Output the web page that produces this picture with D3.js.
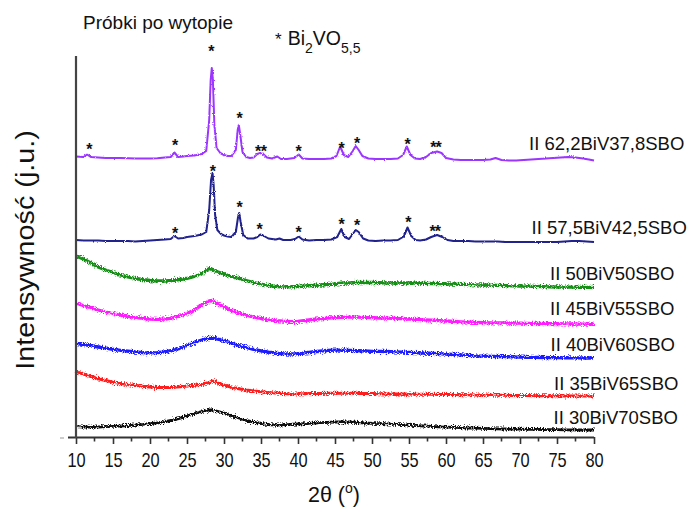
<!DOCTYPE html>
<html><head><meta charset="utf-8">
<script src="https://cdn.jsdelivr.net/npm/d3@7"></script>
<style>
body{margin:0;background:#fff}
svg{display:block}
text{font-family:"Liberation Sans",Arial,Helvetica,sans-serif;fill:#111}
</style></head>
<body><svg id="chart" width="690" height="508"></svg>
<script>
// ---------- DATA ----------
const xTicks = [10,15,20,25,30,35,40,45,50,55,60,65,70,75,80];

// common angle grid for the amorphous samples (2θ, degrees)
const gridAngles = [10,11,12,13,14,15,16,17,18,19,20,21,22,23,24,25,26,27,28,28.5,
  29,30,31,32,33,34,35,36,37,38,39,40,41,42,43,44,45,46,47,48,49,50,51,52,53,54,55,
  56,57,58,59,60,61,62,63,64,65,66,67,68,69,70,71,72,73,74,75,76,77,78,79,80];

const s50BiV50 = [181,178,174,170,167,164.5,162,160,158.5,157.5,156.5,156,156,156.5,157.5,158.5,160.5,163.5,168.5,
  167,165.5,163,160.5,158.5,156.5,154.5,153,151.5,150.5,150.2,150.2,150.5,151,151.5,152,152.5,153,154,154,154.5,
  154.5,154.5,154.3,154,154,154,154,153.8,153.7,153.5,153.3,153,152.8,152.6,152.4,152.2,152,151.8,151.6,151.4,
  151.2,151,150.8,150.6,150.4,150.2,150,149.9,149.8,149.7,149.6,149.5];

const s45BiV55 = [133.7,131.5,129.5,127,125,123.5,122,120.7,119.7,118.7,118,117.7,118,119,121,123.5,127,132,136,
  136.5,134,130,126.5,124,121.5,120,118.5,117.2,116.4,115.8,115.4,115.7,116.5,117.5,118.2,118.8,119.4,119.7,
  119.8,119.8,119.6,119.3,119,118.8,118.6,118.4,118,117.6,117.2,116.8,116.4,116,115.6,115.2,114.8,114.5,114.3,
  114.2,114.1,114,113.9,113.8,113.7,113.6,113.5,113.4,113.3,113.2,113,112.9,112.8,112.7];

const s40BiV60 = [93.7,92.5,91.3,90,88.8,87.7,86.7,85.8,85,84.4,84.2,84.4,85.2,86.7,88.7,91.5,94.5,97,98.7,
  98.8,98.2,96.5,94,91.5,89.5,87.7,86.2,84.8,83.8,83.2,83,83.4,84.2,85,85.8,86.5,86.8,86.8,86.6,86.3,86,85.7,
  85.7,85.5,85.2,84.9,84.6,84.3,84,83.7,83.3,82.9,82.5,82.1,81.7,81.2,80.9,80.7,80.5,80.3,80.1,79.9,79.7,79.6,
  79.5,79.4,79.3,79.2,79.2,79.1,79,79];

const s35BiV65 = [65.3,63,60.5,58.2,56.5,54.8,53.5,52.4,51.5,50.7,50,49.5,49.4,49.6,50.2,51,51.7,52.8,54.5,
  56.3,54.5,52,49.8,48.2,47,46,45.2,44.5,44,43.5,43.1,43,43.2,43.4,43.6,43.7,43.7,43.7,43.7,43.7,43.6,43.4,
  43.2,43.1,43,42.9,42.9,42.8,42.7,42.7,42.6,42.5,42.4,42.3,42.2,42.1,42,41.9,41.8,41.7,41.6,41.5,41.4,41.3,
  41.3,41.2,41.2,41.1,41.1,41,41,41];

const s30BiV70 = [10.3,10,9.8,10,10.3,10.7,11,11.5,12,12.6,13.4,14.1,15.3,16.8,18.7,21,23.3,25.5,27,
  27,26,24,21.2,19,16.7,14.8,13.5,12.5,12,12.2,12.6,13,13.4,13.8,14.3,14.7,15,15.2,15,14.5,14,13.6,13.4,13.1,
  12.7,12.3,11.8,11.4,11,10.6,10.2,9.9,9.6,9.3,9,8.8,8.6,8.4,8.2,8,7.9,7.8,7.7,7.6,7.5,7.4,7.3,7.2,7.1,7,7,7];

// crystalline samples (own angle lists, denser around the reflections)
const a62BiV = [10,11,11.5,12,13,14,15,16,17,18,19,20,21,22,22.8,23.3,23.8,24.5,25,26,27,27.6,28,28.2,28.35,
  28.5,28.7,29,29.5,30,30.5,31,31.6,31.85,32,32.2,32.5,33,33.5,34,34.5,34.9,35.3,35.8,36.5,37.2,37.7,38.5,
  39.5,40.1,40.6,41.5,42.5,43.5,44.5,45.2,45.7,46.2,46.8,47.4,47.8,48.2,48.7,49.5,50.5,51.5,52.5,53.5,54.2,
  54.7,55.2,55.8,56.5,57.3,58,58.8,59.4,60,61,62,63,64,65,66,66.7,67.5,68.5,69.5,70.5,71.5,72.5,73.5,74.5,
  75.5,76.5,77.5,78.5,79.3,80];
const s62BiV = [280.5,280,282.5,280,279.5,279,279,279,278.7,278.5,278.5,278.5,278.7,279.5,280,284.5,280,280.5,
  281,281.5,283,286,317,357,369,357,312,289,284,282,281,281,287,307,312,302,285,280,279,279.5,283,284,283,
  279.5,278.5,280.5,278,278,279,282.5,278.5,278,278,278,278.5,281,290.5,282,280,286,291,287,281,278.5,278,
  278,278,278.5,282,290.5,282,278.5,278,280,284,285.5,284,279,277.5,277,277,277,277,277.5,279,277,276.5,
  276.5,277,277.5,278,278.5,279,279.5,280,279.5,278.5,277.5,276.5];

const a57BiV = [10,11,12,13,14,15,16,17,18,19,20,21,22,22.8,23.3,23.8,24.5,25,26,27,27.6,28,28.25,28.45,28.6,
  28.8,29.1,29.6,30,30.5,31,31.6,31.9,32.05,32.25,32.6,33.2,34,34.5,34.9,35.4,36,37,37.5,38,39,39.6,40.1,
  40.6,41.5,42.5,43.5,44.5,45.3,45.85,46.3,46.9,47.4,47.8,48.2,48.8,49.5,50.5,51.5,52.5,53.5,54.3,54.8,55.3,
  55.9,56.5,57.3,58,58.8,59.5,60.2,61,62,63,64,65,66,67,68,69,70,71,72,73,74,75,76,77,78,79,80];
const s57BiV = [197,196.5,196.5,196.5,196,196,196,196,195.5,196,196.5,197,197.5,198,201,198.5,199,200,201,
  202.5,205,227,257,264,252,222,207,203,201.5,200.5,200,205,220,224,215,202,198.5,198.5,200,202.5,201,198.5,
  197.5,198.5,197,197,198,200.5,197.5,196.5,197,197,197.5,200,208,200,198,203,207,205,198.5,196.5,196,196.5,
  196.5,197,200.5,209.5,201,197,196.5,197.5,200,202,200,197,196,196,196,195.5,195.5,195.5,195.5,195,195,195,
  195,195,195,195,195,195.5,196,196,195.5,195,194.5];

// reflection markers (Bi2VO5,5): angle and marker level
const starAngles62 = [11.8,23.4,28.3,32.1,34.6,35.4,40.1,45.9,48.0,54.8,58.3,59.0];
const starLevels62 = [290,294,388,321,288,288,288,291,296,295,292,292];
const starAngles57 = [23.4,28.5,32.1,34.8,40.1,45.9,48.0,54.9,58.2,58.9];
const starLevels57 = [206,268,232,210,207,215,214,217,208,208];

const seriesNames = ["II 62,2BiV37,8SBO","II 57,5BiV42,5SBO","II 50BiV50SBO","II 45BiV55SBO",
  "II 40BiV60SBO","II 35BiV65SBO","II 30BiV70SBO"];
const seriesColors = ["#9b34ff","#20208c","#178f17","#ff1aff","#1a1aff","#ff1a1a","#111111"];

// ---------- CHART ----------
const svg = d3.select("#chart");
const x = d3.scaleLinear().domain([10,80]).range([76,594]);
const y = d3.scaleLinear().domain([0,380]).range([437,57]);

const defs = svg.append("defs");
function noiseFilter(id, scale, seed){
  const f = defs.append("filter").attr("id",id).attr("x","-5%").attr("y","-50%").attr("width","110%").attr("height","200%");
  f.append("feTurbulence").attr("type","fractalNoise").attr("baseFrequency","0.9").attr("numOctaves",1).attr("seed",seed).attr("result","t");
  f.append("feDisplacementMap").attr("in","SourceGraphic").attr("in2","t").attr("scale",scale).attr("xChannelSelector","R").attr("yChannelSelector","G");
}
noiseFilter("noiseA",6.5,3);
noiseFilter("noiseC",2.6,5);

const line = d3.line().x(d=>x(d[0])).y(d=>y(d[1]));
const series = [
  {a:a62BiV, v:s62BiV, w:2.0, n:"noiseC"},
  {a:a57BiV, v:s57BiV, w:2.0, n:"noiseC"},
  {a:gridAngles, v:s50BiV50, w:3.3, n:"noiseA"},
  {a:gridAngles, v:s45BiV55, w:3.3, n:"noiseA"},
  {a:gridAngles, v:s40BiV60, w:3.3, n:"noiseA"},
  {a:gridAngles, v:s35BiV65, w:3.0, n:"noiseA"},
  {a:gridAngles, v:s30BiV70, w:2.8, n:"noiseA"}
];
series.forEach((s,i)=>{
  const pts = s.a.map((a,j)=>[a,s.v[j]]);
  svg.append("path").attr("d",line(pts)).attr("fill","none")
    .attr("stroke",seriesColors[i]).attr("stroke-width",s.w).attr("stroke-linejoin","round")
    .attr("filter",`url(#${s.n})`);
});

// axes
const xAxis = d3.axisBottom(x).tickValues(xTicks).tickSize(7).tickFormat(d3.format("d"));
const gx = svg.append("g").attr("transform","translate(0,437)").call(xAxis);
gx.select(".domain").attr("stroke","#333").attr("stroke-width",2).attr("d","M68,0.5H594");
gx.selectAll(".tick line").attr("stroke","#333").attr("stroke-width",1.6);
gx.selectAll(".tick text").attr("font-size",20).attr("fill","#111").attr("y",0).attr("dy",0)
  .attr("transform","translate(0,29.5) scale(0.82,1)")
  .attr("font-family","Liberation Sans, Arial, sans-serif");
// minor ticks
const minor = d3.range(12.5,80,5);
svg.append("g").selectAll("line").data(minor).join("line")
  .attr("x1",d=>x(d)).attr("x2",d=>x(d)).attr("y1",437).attr("y2",441.5)
  .attr("stroke","#333").attr("stroke-width",1.6);

svg.append("line").attr("x1",76).attr("x2",76).attr("y1",56).attr("y2",438)
  .attr("stroke","#444").attr("stroke-width",2.2);
svg.append("line").attr("x1",60).attr("x2",64).attr("y1",438).attr("y2",438)
  .attr("stroke","#bbb").attr("stroke-width",1.5);

// stars
function stars(ang, lev){
  svg.append("g").selectAll("text").data(ang).join("text")
    .attr("x",d=>x(d)).attr("y",(d,i)=>y(lev[i])+8)
    .attr("text-anchor","middle").attr("font-size",16).attr("font-weight","bold").text("*");
}
stars(starAngles62,starLevels62);
stars(starAngles57,starLevels57);

// series labels
const labelPos = [[529,150],[531.5,234],[550,280],[550,315],[550.5,350.5],[554,389.5],[553.5,423.5]];
seriesNames.forEach((n,i)=>{
  svg.append("text").attr("x",labelPos[i][0]).attr("y",labelPos[i][1]).attr("font-size",18.5).text(n);
});

// titles
svg.append("text").attr("x",83).attr("y",29).attr("font-size",19).text("Próbki po wytopie");
const leg = svg.append("text").attr("x",275).attr("y",45).attr("font-size",19.5);
leg.append("tspan").attr("font-size",17).text("*");
leg.append("tspan").attr("dx",6).text("Bi");
leg.append("tspan").attr("font-size",14).attr("dy",8).text("2");
leg.append("tspan").attr("dy",-8).text("VO");
leg.append("tspan").attr("font-size",14).attr("dy",8).text("5,5");

svg.append("text").attr("transform","translate(34,250) rotate(-90) scale(1.15,1)").attr("text-anchor","middle")
  .attr("font-size",25).text("Intensywność (j.u.)");

const xt = svg.append("text").attr("x",334).attr("y",502).attr("text-anchor","middle").attr("font-size",21.5);
xt.append("tspan").text("2θ (");
xt.append("tspan").attr("font-size",14).attr("dy",-9).text("o");
xt.append("tspan").attr("dy",9).text(")");
</script></body></html>
